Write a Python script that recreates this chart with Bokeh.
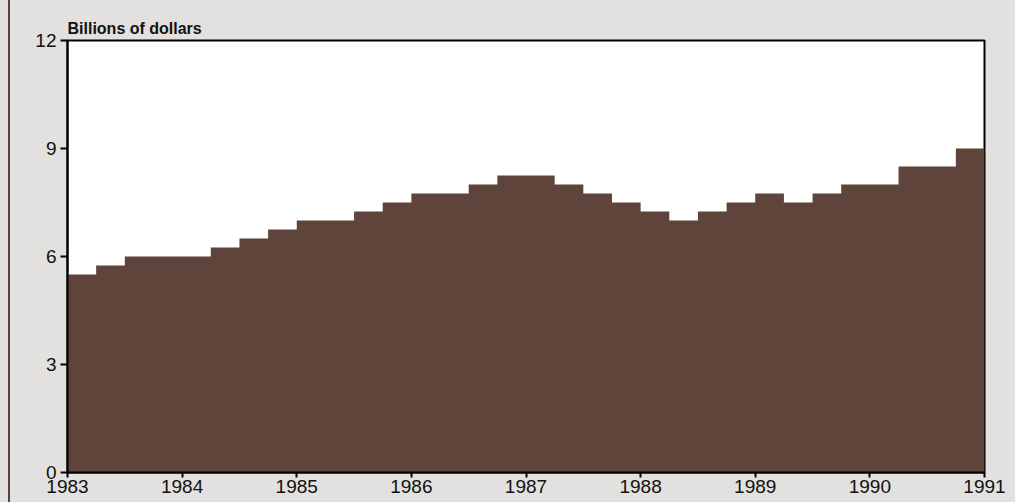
from bokeh.plotting import figure
from bokeh.models import FixedTicker
from bokeh.embed import file_html
from bokeh.resources import INLINE

# Quarterly values, 1983Q1 .. 1990Q4 (billions of dollars)
start_year = 1983
quarter_values = [5.5, 5.75, 6.0, 6.0, 6.0, 6.25, 6.5, 6.75,
                  7.0, 7.0, 7.25, 7.5, 7.75, 7.75, 8.0, 8.25,
                  8.25, 8.0, 7.75, 7.5, 7.25, 7.0, 7.25, 7.5,
                  7.75, 7.5, 7.75, 8.0, 8.0, 8.5, 8.5, 9.0]
year_ticks = [1983, 1984, 1985, 1986, 1987, 1988, 1989, 1990, 1991]
value_ticks = [0, 3, 6, 9, 12]
y_title = "Billions of dollars"

BG = "#e2e1df"
FILL = "#5e443b"
FONT = "Liberation Sans"

edges = [start_year + i * 0.25 for i in range(len(quarter_values) + 1)]
tops = quarter_values + [quarter_values[-1]]

p = figure(width=1015, height=502, output_backend="svg", toolbar_location=None,
           x_range=(1983, 1991), y_range=(0, 12),
           min_border_left=67, min_border_right=31, min_border_top=40, min_border_bottom=30)
p.background_fill_color = "white"
p.border_fill_color = BG
p.border_fill_alpha = 0
p.outline_line_color = "black"
p.outline_line_width = 2
p.grid.visible = False

p.title.text = y_title
p.title.align = "left"
p.title.text_font = FONT
p.title.text_font_size = "16px"
p.title.text_font_style = "bold"
p.title.text_color = "#111111"
p.title.standoff = 8

p.varea_step(x=edges, y1=[0] * len(edges), y2=tops, step_mode="after", fill_color=FILL)

for ax in (p.xaxis[0], p.yaxis[0]):
    ax.axis_line_color = "black"
    ax.axis_line_width = 2
    ax.major_tick_line_color = "black"
    ax.major_tick_line_width = 2
    ax.major_tick_in = 0
    ax.minor_tick_line_color = None
    ax.major_label_text_font = FONT
    ax.major_label_text_font_size = "19px"
    ax.major_label_text_color = "#111111"

p.xaxis.ticker = FixedTicker(ticks=year_ticks)
p.xaxis.major_label_overrides = {y: str(y) for y in year_ticks}
p.xaxis.major_tick_out = 5
p.xaxis.major_label_standoff = 2

p.yaxis.ticker = FixedTicker(ticks=value_ticks)
p.yaxis.major_label_overrides = {v: str(v) for v in value_ticks}
p.yaxis.major_tick_out = 7
p.yaxis.major_label_standoff = 4

html = file_html(p, INLINE)
style = ("<style>html,body{background:linear-gradient(to right, %s 0px, %s 8px, #5a4038 8px, "
         "#5a4038 10px, %s 10px, %s 1015px, #ffffff 1015px);}</style>") % (BG, BG, BG, BG)
html = html.replace("<head>", "<head>" + style, 1)
open("out.html", "w").write(html)
